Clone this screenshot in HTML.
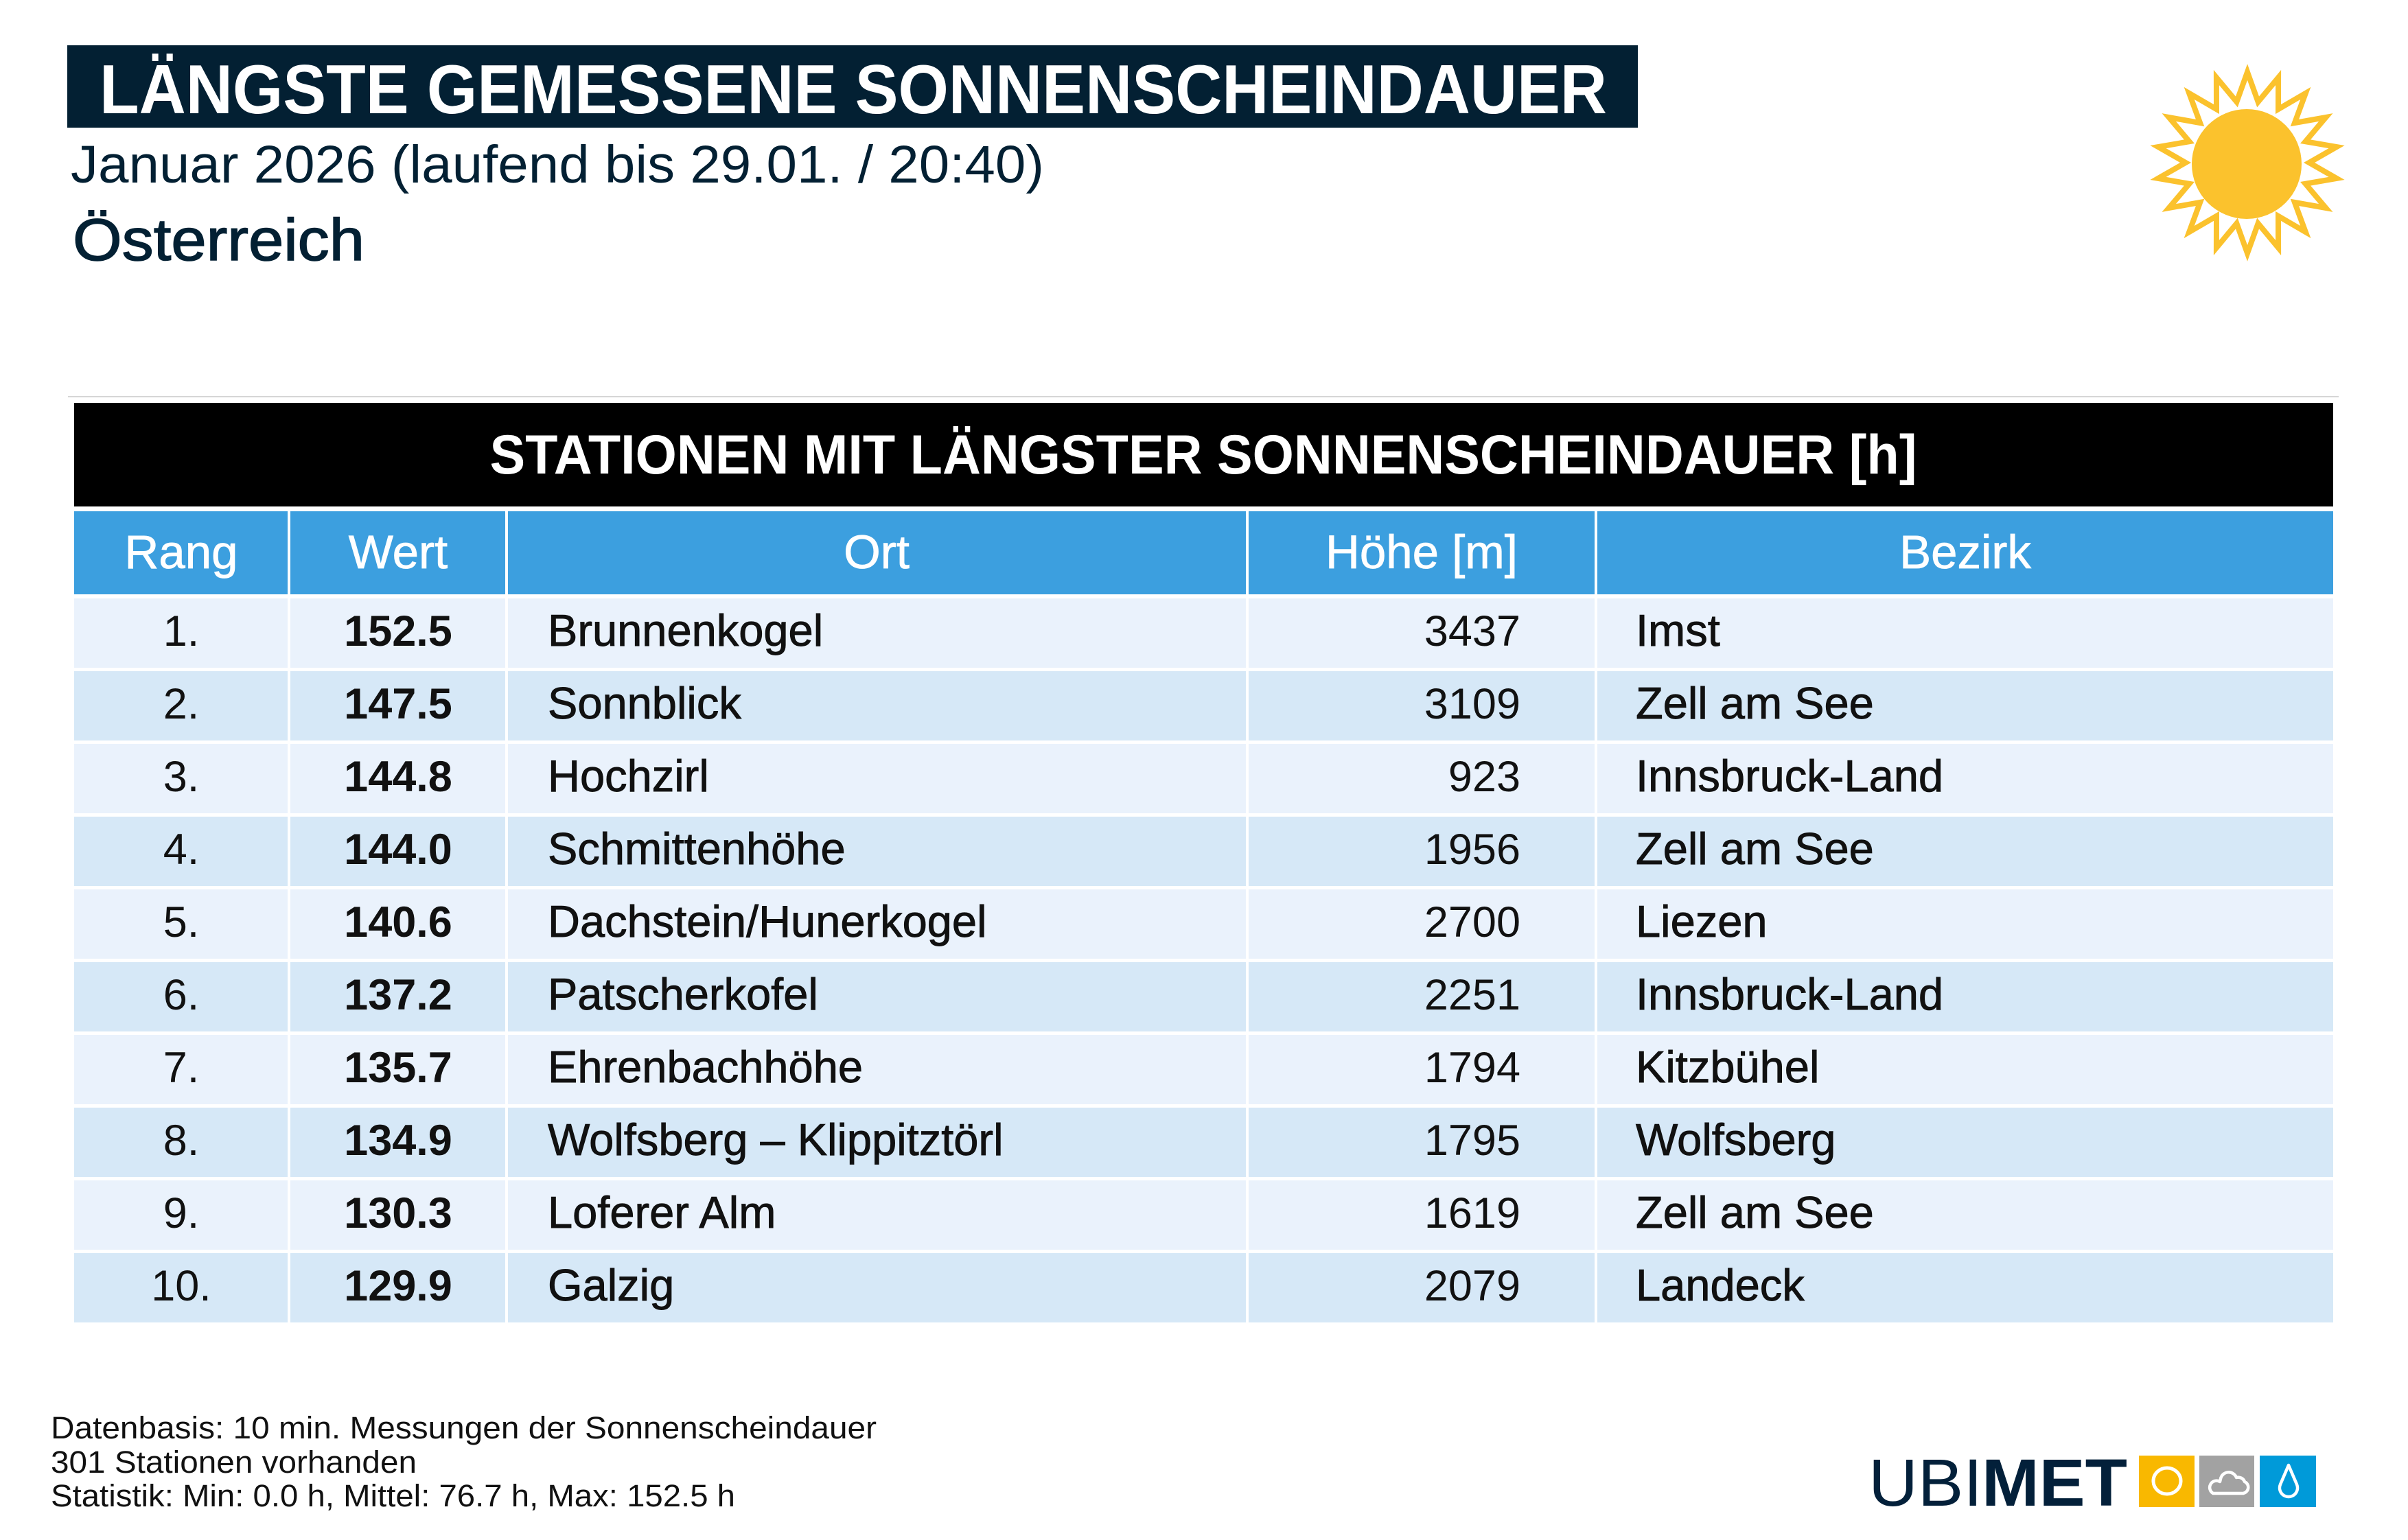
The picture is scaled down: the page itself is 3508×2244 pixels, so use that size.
<!DOCTYPE html>
<html><head><meta charset="utf-8"><style>
html,body{margin:0;padding:0;background:#fff;}
svg{display:block;}
text{font-family:"Liberation Sans",sans-serif;}
</style></head><body>
<svg width="3508" height="2244" viewBox="0 0 3508 2244" xmlns="http://www.w3.org/2000/svg">
<rect width="3508" height="2244" fill="#fff"/>
<!-- Title bar -->
<rect x="98" y="66" width="2288" height="120" fill="#032033"/>
<text x="145" y="165" font-size="101" font-weight="bold" fill="#fff" textLength="2196" lengthAdjust="spacingAndGlyphs">LÄNGSTE GEMESSENE SONNENSCHEINDAUER</text>
<text x="103" y="266" font-size="77" fill="#032033" textLength="1418" lengthAdjust="spacingAndGlyphs">Januar 2026 (laufend bis 29.01. / 20:40)</text>
<text x="106" y="379" font-size="86" fill="#032033" stroke="#032033" stroke-width="1.5" textLength="425" lengthAdjust="spacingAndGlyphs">Österreich</text>

<!-- Sun -->
<g transform="translate(3274,237)">
<polygon id="star" fill="none" stroke="#fbc22d" stroke-width="8" stroke-linejoin="miter" stroke-miterlimit="6" points=""/>
<circle cx="-1" cy="2" r="80" fill="#fbc22d"/>
</g>

<!-- gray line -->
<rect x="99" y="577" width="3308" height="2" fill="#d6d6d6"/>

<!-- table header -->
<rect x="108" y="587" width="3291" height="151" fill="#000"/>
<text x="1753" y="690" font-size="81" font-weight="bold" fill="#fff" text-anchor="middle" textLength="2079" lengthAdjust="spacingAndGlyphs">STATIONEN MIT LÄNGSTER SONNENSCHEINDAUER [h]</text>

<g fill="#3c9fdf">
<rect x="108" y="745" width="311" height="121"/>
<rect x="423" y="745" width="313" height="121"/>
<rect x="740" y="745" width="1075" height="121"/>
<rect x="1819" y="745" width="504" height="121"/>
<rect x="2327" y="745" width="1072" height="121"/>
</g>
<g font-size="69" fill="#fff" text-anchor="middle" stroke="#fff" stroke-width="0.8">
<text x="264" y="828">Rang</text>
<text x="580" y="828">Wert</text>
<text x="1277" y="828">Ort</text>
<text x="2071" y="828">Höhe [m]</text>
<text x="2863" y="828">Bezirk</text>
</g>

<g id="rows"></g>

<!-- footer -->
<g font-size="45" fill="#111">
<text x="74" y="2096" textLength="1203" lengthAdjust="spacingAndGlyphs">Datenbasis: 10 min. Messungen der Sonnenscheindauer</text>
<text x="74" y="2146" textLength="533" lengthAdjust="spacingAndGlyphs">301 Stationen vorhanden</text>
<text x="74" y="2195" textLength="997" lengthAdjust="spacingAndGlyphs">Statistik: Min: 0.0 h, Mittel: 76.7 h, Max: 152.5 h</text>
</g>

<!-- logo -->
<text x="2722" y="2194" font-size="97" fill="#03203a" textLength="166" lengthAdjust="spacingAndGlyphs">UBI</text>
<text x="2887" y="2194" font-size="97" font-weight="bold" fill="#03203a" textLength="212" lengthAdjust="spacingAndGlyphs">MET</text>
<rect x="3116" y="2121" width="81" height="75" fill="#f9b800"/>
<rect x="3204" y="2121" width="80" height="75" fill="#a2a2a2"/>
<rect x="3292" y="2121" width="82" height="75" fill="#009ad9"/>
<ellipse cx="3157" cy="2158" rx="20" ry="19" fill="none" stroke="#fff" stroke-width="5"/>
<path d="M3224 2176 L3268 2176 A9 9 0 0 0 3270 2159 A10 10 0 0 0 3258 2153 A12 12 0 0 0 3235 2155 L3234 2159 A8.5 8.5 0 0 0 3224 2176 Z" fill="none" stroke="#fff" stroke-width="4.5" stroke-linejoin="round"/>
<path d="M3334 2135 L3346 2163 A13 13 0 1 1 3322 2163 Z" fill="none" stroke="#fff" stroke-width="4.5" stroke-linejoin="round"/>
</svg>
<script>
(function(){
  var pts=[];
  for(var i=0;i<36;i++){
    var r=(i%2==0)?132:90;
    var a=(90 - i*10)*Math.PI/180;
    pts.push((r*Math.cos(a)).toFixed(1)+","+(-r*Math.sin(a)).toFixed(1));
  }
  document.getElementById("star").setAttribute("points",pts.join(" "));
  var data=[
    ["1.","152.5","Brunnenkogel","3437","Imst"],
    ["2.","147.5","Sonnblick","3109","Zell am See"],
    ["3.","144.8","Hochzirl","923","Innsbruck-Land"],
    ["4.","144.0","Schmittenhöhe","1956","Zell am See"],
    ["5.","140.6","Dachstein/Hunerkogel","2700","Liezen"],
    ["6.","137.2","Patscherkofel","2251","Innsbruck-Land"],
    ["7.","135.7","Ehrenbachhöhe","1794","Kitzbühel"],
    ["8.","134.9","Wolfsberg – Klippitztörl","1795","Wolfsberg"],
    ["9.","130.3","Loferer Alm","1619","Zell am See"],
    ["10.","129.9","Galzig","2079","Landeck"]
  ];
  var ns="http://www.w3.org/2000/svg";
  var g=document.getElementById("rows");
  var cols=[[108,311],[423,313],[740,1075],[1819,504],[2327,1072]];
  function el(tag,attrs,txt){var e=document.createElementNS(ns,tag);for(var k in attrs)e.setAttribute(k,attrs[k]);if(txt!=null)e.textContent=txt;g.appendChild(e);return e;}
  for(var i=0;i<data.length;i++){
    var top=872+106*i, fill=(i%2==0)?"#eaf2fc":"#d6e8f7";
    for(var c=0;c<5;c++) el("rect",{x:cols[c][0],y:top,width:cols[c][1],height:101,fill:fill});
    var y=top+69, d=data[i];
    el("text",{x:264,y:y,"font-size":63,fill:"#111","text-anchor":"middle"},d[0]);
    el("text",{x:580,y:y,"font-size":63,"font-weight":"bold",fill:"#111","text-anchor":"middle"},d[1]);
    el("text",{x:798,y:y,"font-size":65,fill:"#111",stroke:"#111","stroke-width":0.9},d[2]);
    el("text",{x:2215,y:y,"font-size":63,fill:"#111","text-anchor":"end"},d[3]);
    el("text",{x:2383,y:y,"font-size":65,fill:"#111",stroke:"#111","stroke-width":0.9},d[4]);
  }
})();
</script>
</body></html>
